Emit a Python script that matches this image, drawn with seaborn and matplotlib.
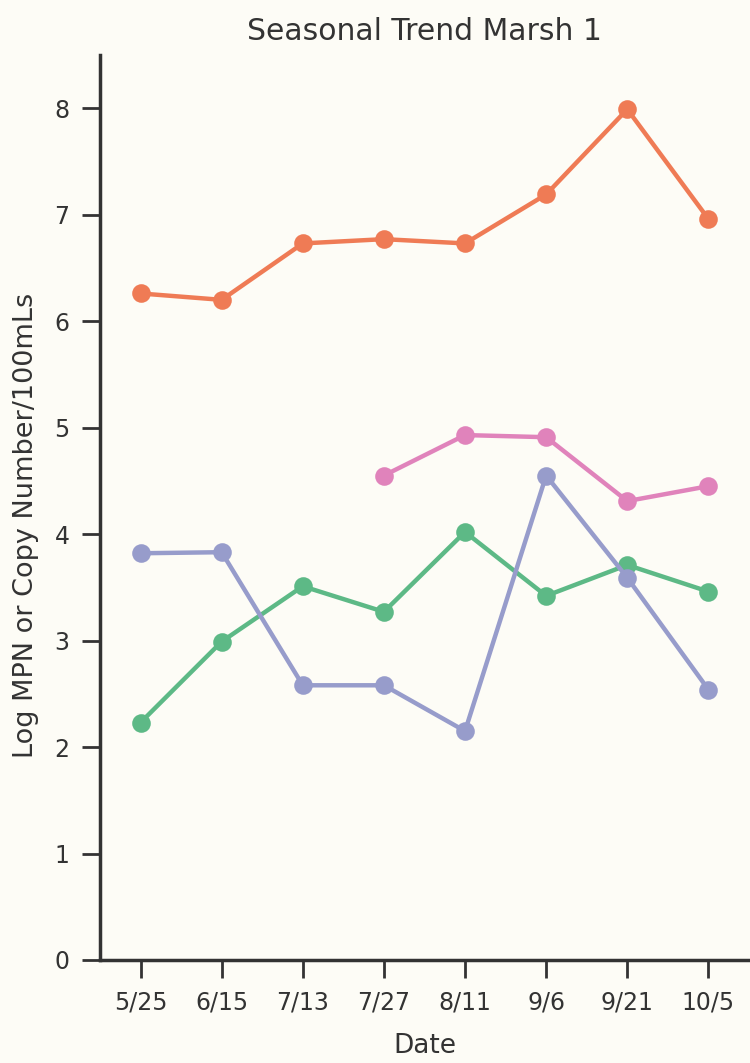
import matplotlib
matplotlib.use("Agg")
import matplotlib.pyplot as plt
import seaborn as sns
import numpy as np
import pandas as pd

dates = ["5/25", "6/15", "7/13", "7/27", "8/11", "9/6", "9/21", "10/5"]
orange_vals = [6.26, 6.20, 6.73, 6.77, 6.73, 7.19, 7.99, 6.96]
pink_vals = [np.nan, np.nan, np.nan, 4.55, 4.93, 4.91, 4.31, 4.45]
green_vals = [2.23, 2.99, 3.51, 3.27, 4.02, 3.42, 3.71, 3.46]
purple_vals = [3.82, 3.83, 2.58, 2.58, 2.15, 4.55, 3.59, 2.54]
series_names = ["A", "B", "C", "D"]
colors = ["#ef7b55", "#e083bb", "#5db986", "#979ccb"]

sns.set_theme(style="ticks")
plt.rcParams['font.family'] = ['DejaVu Sans']

bg = "#fdfcf6"
txt = "#333333"
fig = plt.figure(figsize=(7.5, 10.63), dpi=100, facecolor=bg)
ax = fig.add_axes([0.1333, 0.0969, 0.8653, 0.8514])
ax.set_facecolor(bg)

frames = []
for name, vals in zip(series_names, [orange_vals, pink_vals, green_vals, purple_vals]):
    frames.append(pd.DataFrame({"Date": dates, "value": vals, "series": name}))
df = pd.concat(frames).dropna()

sns.pointplot(data=df, x="Date", y="value", hue="series", order=dates,
              hue_order=series_names, palette=colors, ax=ax,
              markersize=11, linewidth=3.2, legend=False)

ax.set_ylim(0, 8.5)
ax.set_yticks(range(0, 9))
ax.set_xlim(-0.5, 7.5)
ax.set_title("Seasonal Trend Marsh 1", fontsize=21.5, color=txt, pad=11)
ax.set_xlabel("Date", fontsize=19, color=txt, labelpad=13)
ax.set_ylabel("Log MPN or Copy Number/100mLs", fontsize=19.5, color=txt)
ax.yaxis.set_label_coords(-0.094, 0.48)
ax.tick_params(axis="both", labelsize=17, colors=txt, length=13, width=2, pad=9)
for s in ["top", "right"]:
    ax.spines[s].set_visible(False)
for s in ["left", "bottom"]:
    ax.spines[s].set_linewidth(2.5)
    ax.spines[s].set_color(txt)

fig.savefig("out.png", dpi=100, facecolor=bg)
